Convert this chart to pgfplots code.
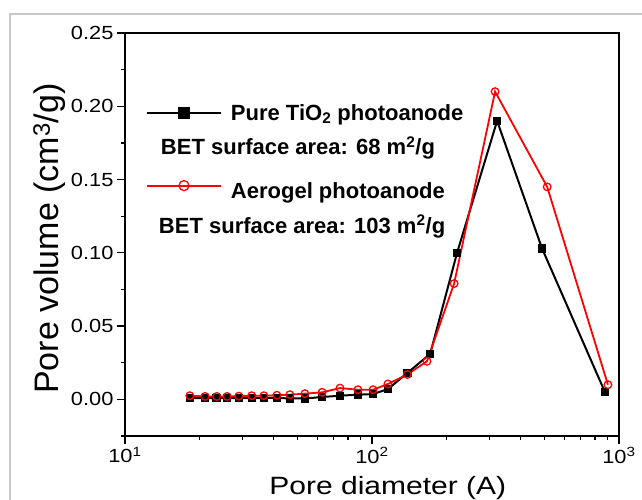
\documentclass[border=0pt]{standalone}
\usepackage{fontspec}
\setmainfont{Liberation Sans}
\usepackage{pgfplots}
\pgfplotsset{compat=1.18}
\newcommand\st{\rule[-6pt]{0pt}{22pt}}
\newcommand\stt{\rule[-6pt]{0pt}{33pt}}
\newcommand\sx[1]{\scalebox{1.15}[1]{#1}}
\begin{document}
\begin{tikzpicture}
\begin{axis}[
  scale only axis,
  width=494pt, height=403pt,
  at={(0pt,0pt)}, anchor=south west,
  xmode=log, xmin=10, xmax=1000,
  ymin=-0.025, ymax=0.25,
  xtick={10,100,1000},
  xticklabels={\sx{10\textsuperscript{1}},\sx{10\textsuperscript{2}},\sx{10\textsuperscript{3}}},
  ytick={0,0.05,0.1,0.15,0.2,0.25},
  yticklabels={\sx{0.00},\sx{0.05},\sx{0.10},\sx{0.15},\sx{0.20},\sx{0.25}},
  minor ytick={-0.025,0.025,0.075,0.125,0.175,0.225},
  tick pos=left,
  tick align=outside,
  major tick length=8pt,
  minor tick length=4pt,
  axis line style={line width=1.2pt},
  every tick/.style={black, line width=1.2pt},
  tick label style={font=\fontsize{19}{23}\selectfont},
  xlabel={\scalebox{1.2}[1]{Pore diameter (A)}},
  ylabel={Pore volume (cm\textsuperscript{3}/g)},
  xlabel style={font=\fontsize{25}{30}\selectfont, at={(axis description cs:0.532,-0.146)}, anchor=base},
  ylabel style={font=\fontsize{34}{40}\selectfont, at={(axis description cs:-0.1336,0.49)}, anchor=base},
  legend style={at={(axis description cs:0.036,0.834)}, anchor=north west, draw=none, fill=none,
    font=\bfseries\fontsize{22}{26}\selectfont, row sep=11pt, column sep=7pt,
    nodes={inner sep=2pt}},
  legend cell align=left,
  legend image code/.code={\draw[mark repeat=2,mark phase=2,mark size=5pt] plot coordinates {(0pt,0pt) (37pt,0pt) (74pt,0pt)};},
]
\addplot[black, line width=2pt, mark=square*, mark size=3.2pt, mark options={solid, fill=black}] coordinates {
(18.3,0.001)(21.1,0.0008)(23.5,0.0008)(25.9,0.0008)(28.9,0.0008)(32.6,0.0008)(36.5,0.001)(41.2,0.001)(46.5,0.0006)(53.5,0.0006)(62.8,0.0016)(74.2,0.0025)(87.7,0.0032)(101,0.0036)(116,0.007)(139,0.018)(172,0.031)(221,0.100)(321,0.190)(488,0.103)(877,0.005)
};
\addlegendentry{\st Pure TiO\textsubscript{2} photoanode}
\addlegendimage{empty legend}
\addlegendentry{\st\hspace*{-70pt}BET surface area: 68 m\textsuperscript{2}/g}
\addplot[red, line width=1.8pt, mark=o, mark size=3.8pt, mark options={solid, fill=white, line width=1.3pt}] coordinates {
(18.3,0.0025)(21.1,0.002)(23.5,0.002)(25.9,0.002)(28.9,0.0022)(32.6,0.0025)(36.5,0.0025)(41.2,0.0028)(46.5,0.0032)(53.5,0.0039)(62.8,0.0048)(74.2,0.0077)(87.7,0.0066)(101,0.0066)(116,0.0105)(139,0.017)(167,0.026)(215,0.079)(315,0.210)(512,0.145)(902,0.010)
};
\addlegendentry{\stt Aerogel photoanode}
\addlegendimage{empty legend}
\addlegendentry{\st\hspace*{-72pt}BET surface area: 103 m\textsuperscript{2}/g}
\end{axis}
\draw[black!22, line width=1.5pt] (-115pt,-80pt) -- (-115pt,422pt) -- (540pt,422pt);
\pgfresetboundingbox
\path[use as bounding box] (-125pt,-63pt) rectangle (517pt,436pt);
\end{tikzpicture}
\end{document}
